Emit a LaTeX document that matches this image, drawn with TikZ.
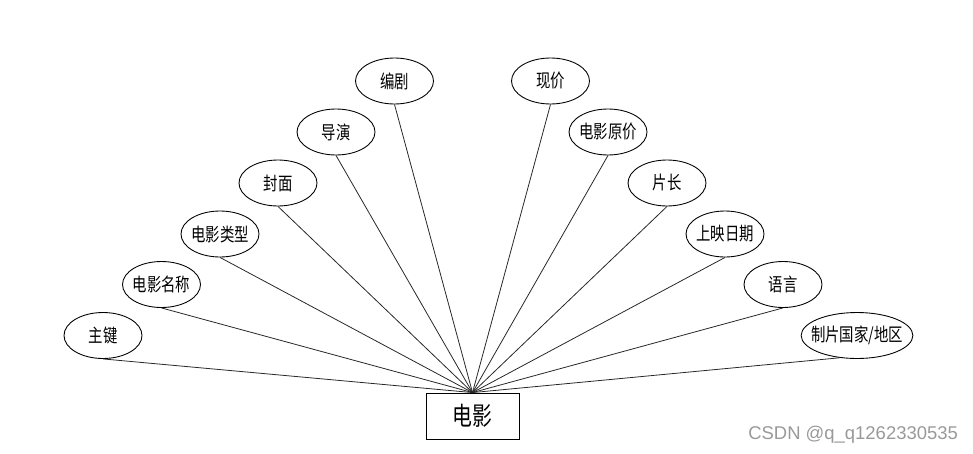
\documentclass[tikz,border=0pt]{standalone}
\usepackage{fontspec}
\usepackage{xcolor}
\usepackage{tikz}
\usetikzlibrary{shapes.geometric, positioning}
\newfontfamily\cjk[FakeStretch=0.78]{Noto Sans CJK SC}
\newfontfamily\wmfont{Liberation Sans}
\tikzstyle{attr} = [ellipse, draw, line width=0.5pt, minimum width=1.56cm, minimum height=0.92cm, inner xsep=-1.3mm, inner ysep=0pt, font=\cjk\fontsize{10.5}{12}\selectfont]
\tikzstyle{entity} = [rectangle, draw, line width=0.5pt, minimum width=1.86cm, minimum height=0.92cm, font=\cjk\fontsize{14.5}{16}\selectfont]
\tikzstyle{link} = [line width=0.45pt, black!85]

\begin{document}
\begin{tikzpicture}[x=0.02cm, y=-0.02cm]
			\useasboundingbox (0,0) rectangle (973,453);
			
			% Entity
			\node[entity] (movie) at (472.5,416) {电影};
			
			% Attributes, left side
			\node[attr] (key) at (103,335.5) {主键};
			\node[attr] (name) at (161.5,284.5) {电影名称};
			\node[attr] (genre) at (220,234) {电影类型};
			\node[attr] (cover) at (278,183) {封面};
			\node[attr] (director) at (336,132) {导演};
			\node[attr] (writer) at (394.5,81) {编剧};
			
			% Attributes, right side
			\node[attr] (price) at (550.5,81) {现价};
			\node[attr] (oldprice) at (608,132) {电影原价};
			\node[attr] (length) at (667,183) {片长};
			\node[attr] (release) at (725,234) {上映日期};
			\node[attr] (language) at (783,284.5) {语言};
			\node[attr, minimum width=2.18cm] (country) at (857,335.5) {制片国家/地区};
			
			% Connections to the entity
			\draw[link] (key.south) -- (movie.north);
			\draw[link] (name.south) -- (movie.north);
			\draw[link] (genre.south) -- (movie.north);
			\draw[link] (cover.south) -- (movie.north);
			\draw[link] (director.south) -- (movie.north);
			\draw[link] (writer.south) -- (movie.north);
			\draw[link] (price.south) -- (movie.north);
			\draw[link] (oldprice.south) -- (movie.north);
			\draw[link] (length.south) -- (movie.north);
			\draw[link] (release.south) -- (movie.north);
			\draw[link] (language.south) -- (movie.north);
			\draw[link] (country.-128) -- (movie.north);
			
			% Watermark
			\node[anchor=base west, inner sep=0pt, text=black!40, font=\wmfont\fontsize{10.5}{12}\selectfont] (wm) at (748,439) {CSDN @q\_q1262330535};
			
		\end{tikzpicture}
\end{document}
